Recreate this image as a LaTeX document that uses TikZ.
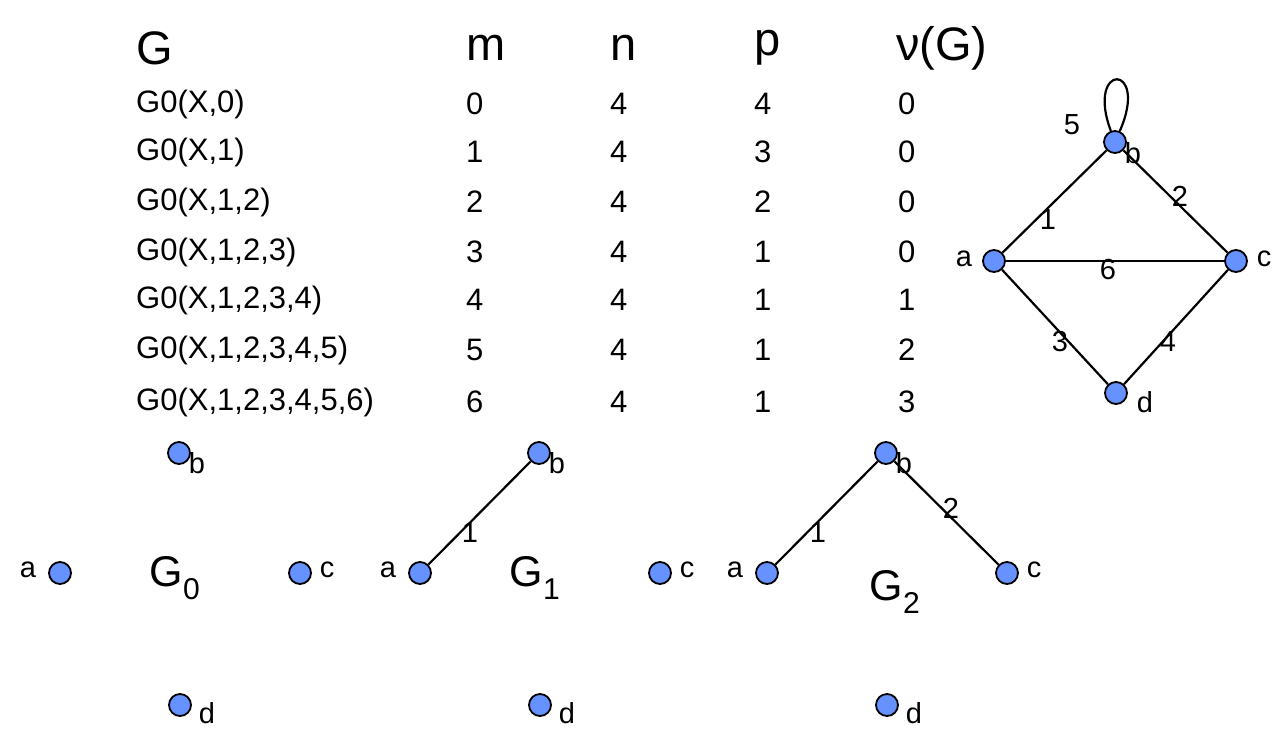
\documentclass[tikz,border=0pt]{standalone}
\usepackage{fontspec}
\setmainfont{Liberation Sans}
\begin{document}
\begin{tikzpicture}[x=1pt,y=-1pt,
  vtx/.style={circle,draw=black,line width=1.8pt,fill={rgb,255:red,102;green,146;blue,255},minimum size=22pt,inner sep=0pt},
  edge/.style={line width=2.2pt},
  lbl/.style={font=\fontsize{29}{31}\selectfont,inner sep=0pt},
  hdr/.style={font=\fontsize{47}{49}\selectfont,inner sep=0pt,anchor=west},
  cell/.style={font=\fontsize{31}{33}\selectfont,inner sep=0pt,anchor=west},
  gname/.style={font=\fontsize{43}{45}\selectfont,inner sep=0pt}]
\useasboundingbox (0,0) rectangle (1280,732);
% table
\node[hdr] (h1) at (136,48) {G};
\node[hdr] (h2) at (466,48) {m};
\node[hdr] (h3) at (610,48) {n};
\node[hdr] (h4) at (754,48) {p};
\node[hdr] (h5) at (896,48) {ν(G)};
\foreach \g/\m/\n/\p/\v/\y [count=\i] in {G0(X{,}0)/0/4/4/0/104, G0(X{,}1)/1/4/3/0/152, G0(X{,}1{,}2)/2/4/2/0/202, G0(X{,}1{,}2{,}3)/3/4/1/0/252, G0(X{,}1{,}2{,}3{,}4)/4/4/1/1/300, G0(X{,}1{,}2{,}3{,}4{,}5)/5/4/1/2/350, G0(X{,}1{,}2{,}3{,}4{,}5{,}6)/6/4/1/3/402}{
  \node[cell] (r\i a) at (136,\y) {\g};
  \node[cell] (r\i b) at (466,\y) {\m};
  \node[cell] (r\i c) at (610,\y) {\n};
  \node[cell] (r\i d) at (754,\y) {\p};
  \node[cell] (r\i e) at (898,\y) {\v};
}
% top right graph
\node[vtx] (B) at (1115,142) {};
\node[vtx] (A) at (994,261) {};
\node[vtx] (C) at (1236,261) {};
\node[vtx] (D) at (1116,393) {};
\draw[edge] (B) .. controls (1085,62) and (1150,62) .. (B);
\draw[edge] (A) -- (B);
\draw[edge] (B) -- (C);
\draw[edge] (A) -- (C);
\draw[edge] (A) -- (D);
\draw[edge] (D) -- (C);
\node[lbl] (l5) at (1072,125) {5};
\node[lbl] (l1) at (1048,220) {1};
\node[lbl] (l2) at (1180,196) {2};
\node[lbl] (l6) at (1108,270) {6};
\node[lbl] (l3) at (1060,342) {3};
\node[lbl] (l4) at (1168,342) {4};
\node[lbl] (tb) at (1133,153) {b};
\node[lbl] (ta) at (964,259) {a};
\node[lbl] (tc) at (1264,259) {c};
\node[lbl] (td) at (1145,402) {d};
% bottom graphs
\foreach \k/\ox in {0/0,1/360,2/707}{
  \node[vtx] (b\k) at (179+\ox,453) {};
  \node[vtx] (a\k) at (60+\ox,573) {};
  \node[vtx] (c\k) at (300+\ox,573) {};
  \node[vtx] (d\k) at (180+\ox,705) {};
  \node[lbl] (tb\k) at (197+\ox,463) {b};
  \node[lbl] (ta\k) at (28+\ox,570) {a};
  \node[lbl] (tc\k) at (327+\ox,570) {c};
  \node[lbl] (td\k) at (207+\ox,713) {d};
}
\node[gname] (g0) at (175,578) {G\textsubscript{0}};
\node[gname] (g1) at (535,578) {G\textsubscript{1}};
\node[gname] (g2) at (895,592) {G\textsubscript{2}};
\draw[edge] (a1) -- (b1);
\node[lbl] (e11) at (470,533) {1};
\draw[edge] (a2) -- (b2);
\draw[edge] (b2) -- (c2);
\node[lbl] (e21) at (818,533) {1};
\node[lbl] (e22) at (951,508) {2};
\end{tikzpicture}
\end{document}
